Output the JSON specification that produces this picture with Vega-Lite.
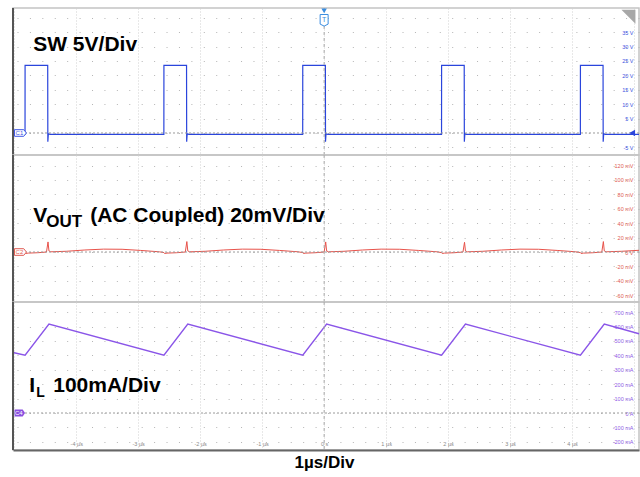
{
  "$schema": "https://vega.github.io/schema/vega-lite/v6.json",
  "background": "white",
  "padding": {"left": 9, "top": 6, "right": 0, "bottom": 0},
  "spacing": 0,
  "bounds": "flush",
  "config": {
    "view": {"stroke": "#c4c4c4", "strokeWidth": 1.5},
    "font": "Liberation Sans",
    "axis": {"ticks": false, "domain": false, "labelFont": "Liberation Sans", "gridWidth": 1, "labelFlush": false, "labelOverlap": false, "tickCount": 30}
  },
  "datasets": {
    "sw": [
      {"t": -5.02, "v": -0.5}, {"t": -4.826, "v": -0.5}, {"t": -4.825, "v": 23.5}, {"t": -4.46, "v": 23.5}, {"t": -4.458, "v": -3.0}, {"t": -4.45, "v": -0.3}, {"t": -4.42, "v": -0.5},
      {"t": -2.586, "v": -0.5}, {"t": -2.585, "v": 23.5}, {"t": -2.22, "v": 23.5}, {"t": -2.218, "v": -3.0}, {"t": -2.21, "v": -0.3}, {"t": -2.18, "v": -0.5},
      {"t": -0.346, "v": -0.5}, {"t": -0.345, "v": 23.5}, {"t": 0.02, "v": 23.5}, {"t": 0.022, "v": -3.0}, {"t": 0.03, "v": -0.3}, {"t": 0.06, "v": -0.5},
      {"t": 1.894, "v": -0.5}, {"t": 1.895, "v": 23.5}, {"t": 2.26, "v": 23.5}, {"t": 2.262, "v": -3.0}, {"t": 2.27, "v": -0.3}, {"t": 2.3, "v": -0.5},
      {"t": 4.134, "v": -0.5}, {"t": 4.135, "v": 23.5}, {"t": 4.5, "v": 23.5}, {"t": 4.502, "v": -3.0}, {"t": 4.51, "v": -0.3}, {"t": 4.54, "v": -0.5},
      {"t": 5.08, "v": -0.5}
    ],
    "vout": [
      {"t": -5.02, "v": 1.1}, {"t": -4.9, "v": 0.3}, {"t": -4.825, "v": -0.8}, {"t": -4.815, "v": -2.0}, {"t": -4.775, "v": -1.5}, {"t": -4.625, "v": -1.0},
      {"t": -4.48, "v": 0.0}, {"t": -4.455, "v": 14}, {"t": -4.44, "v": 1.5}, {"t": -4.41, "v": 0.3}, {"t": -4.16, "v": 1.0}, {"t": -3.86, "v": 2.8}, {"t": -3.56, "v": 4.0}, {"t": -3.26, "v": 3.8}, {"t": -2.96, "v": 2.2}, {"t": -2.66, "v": 0.3},
      {"t": -2.585, "v": -0.8}, {"t": -2.575, "v": -2.0}, {"t": -2.535, "v": -1.5}, {"t": -2.385, "v": -1.0},
      {"t": -2.24, "v": 0.0}, {"t": -2.215, "v": 14.5}, {"t": -2.2, "v": 1.5}, {"t": -2.17, "v": 0.3}, {"t": -1.92, "v": 1.0}, {"t": -1.62, "v": 2.8}, {"t": -1.32, "v": 4.0}, {"t": -1.02, "v": 3.8}, {"t": -0.72, "v": 2.2}, {"t": -0.42, "v": 0.3},
      {"t": -0.345, "v": -0.8}, {"t": -0.335, "v": -2.0}, {"t": -0.295, "v": -1.5}, {"t": -0.145, "v": -1.0},
      {"t": 0.0, "v": 0.0}, {"t": 0.025, "v": 14}, {"t": 0.04, "v": 1.5}, {"t": 0.07, "v": 0.3}, {"t": 0.32, "v": 1.0}, {"t": 0.62, "v": 2.8}, {"t": 0.92, "v": 4.0}, {"t": 1.22, "v": 3.8}, {"t": 1.52, "v": 2.2}, {"t": 1.82, "v": 0.3},
      {"t": 1.895, "v": -0.8}, {"t": 1.905, "v": -2.0}, {"t": 1.945, "v": -1.5}, {"t": 2.095, "v": -1.0},
      {"t": 2.24, "v": 0.0}, {"t": 2.265, "v": 13.5}, {"t": 2.28, "v": 1.5}, {"t": 2.31, "v": 0.3}, {"t": 2.56, "v": 1.0}, {"t": 2.86, "v": 2.8}, {"t": 3.16, "v": 4.0}, {"t": 3.46, "v": 3.8}, {"t": 3.76, "v": 2.2}, {"t": 4.06, "v": 0.3},
      {"t": 4.135, "v": -0.8}, {"t": 4.145, "v": -2.0}, {"t": 4.185, "v": -1.5}, {"t": 4.335, "v": -1.0},
      {"t": 4.48, "v": 0.0}, {"t": 4.505, "v": 14.5}, {"t": 4.52, "v": 1.5}, {"t": 4.55, "v": 0.3}, {"t": 4.8, "v": 1.0}, {"t": 5.08, "v": 2.4}
    ],
    "il": [
      {"t": -5.02, "v": 420}, {"t": -4.825, "v": 402}, {"t": -4.44, "v": 617}, {"t": -2.585, "v": 402}, {"t": -2.2, "v": 617},
      {"t": -0.345, "v": 402}, {"t": 0.04, "v": 617}, {"t": 1.895, "v": 402}, {"t": 2.28, "v": 617}, {"t": 4.135, "v": 402},
      {"t": 4.52, "v": 617}, {"t": 5.08, "v": 550}
    ]
  },
  "vconcat": [
    {
      "width": 626,
      "height": 147,
      "layer": [
        {
          "data": {"name": "sw"},
          "mark": {"type": "line", "color": "#2a45dc", "strokeWidth": 1.2},
          "encoding": {
            "x": {"field": "t", "type": "quantitative", "scale": {"domain": [-5.02, 5.08], "nice": false, "zero": false},
              "axis": {"values": [-5, -4, -3, -2, -1, 0, 1, 2, 3, 4, 5], "tickCount": 30, "labels": false, "grid": true, "gridDash": [1, 2], "gridColor": "#d0d0d0", "title": null}},
            "y": {"field": "v", "type": "quantitative", "scale": {"domain": [-7.64, 43.4], "nice": false, "zero": false},
              "axis": {"orient": "right", "values": [-5, 0, 5, 10, 15, 20, 25, 30, 35, 40], "tickCount": 30, "labelExpr": "datum.value == 0 || datum.value == 40 ? '' : datum.value + ' V'", "labelAlign": "right", "labelPadding": -6, "labelFontSize": 5.5, "labelColor": "#4052e2", "labelOverlap": false, "labelBound": false, "grid": true, "gridDash": [1, 11.42], "gridColor": "#b5b5b5", "title": null}}
          }
        },
        {"data": {"values": [{}]}, "mark": {"type": "rule", "color": "#9a9a9a", "strokeDash": [2, 2], "strokeWidth": 1}, "encoding": {"y": {"datum": 0}}},
        {"data": {"values": [{}]}, "mark": {"type": "rule", "color": "#a8a8a8", "strokeDash": [3, 3], "strokeWidth": 1}, "encoding": {"x": {"datum": 0}}},
        {"data": {"values": [{}]}, "mark": {"type": "rule", "color": "#555555", "strokeWidth": 2}, "encoding": {"x": {"datum": -5.02}}},
        {"data": {"values": [{}]}, "mark": {"type": "text", "text": "SW 5V/Div", "align": "left", "baseline": "alphabetic", "fontSize": 21, "fontWeight": "bold", "color": "#000000", "font": "Liberation Sans"}, "encoding": {"x": {"datum": -4.694}, "y": {"datum": 28.5}}},
        {"data": {"values": [{}]}, "mark": {"type": "point", "filled": true, "fill": "white", "stroke": "#3d55e6", "strokeWidth": 1, "opacity": 1, "shape": "M-1,-0.55L0.55,-0.55L1,0L0.55,0.55L-1,0.55Z", "size": 144}, "encoding": {"x": {"datum": -4.9}, "y": {"datum": 0}}},
        {"data": {"values": [{}]}, "mark": {"type": "text", "text": "C1", "fontSize": 6, "color": "#3d55e6", "align": "center", "baseline": "middle", "dx": -1}, "encoding": {"x": {"datum": -4.9}, "y": {"datum": 0}}},
        {"data": {"values": [{}]}, "mark": {"type": "point", "filled": true, "color": "#2a45dc", "opacity": 1, "shape": "triangle-left", "size": 45}, "encoding": {"x": {"datum": 4.97}, "y": {"datum": 0}}},
        {"data": {"values": [{}]}, "mark": {"type": "point", "filled": true, "color": "#3a8de0", "opacity": 1, "shape": "triangle-down", "size": 30}, "encoding": {"x": {"datum": 0}, "y": {"datum": 42.4}}},
        {"data": {"values": [{}]}, "mark": {"type": "point", "filled": true, "fill": "white", "stroke": "#3a8de0", "strokeWidth": 1, "opacity": 1, "shape": "M-1,-1.4L1,-1.4L1,1L0,1.5L-1,1Z", "size": 64}, "encoding": {"x": {"datum": 0}, "y": {"datum": 39.2}}},
        {"data": {"values": [{}]}, "mark": {"type": "text", "text": "T", "fontSize": 7, "color": "#3a8de0", "align": "center", "baseline": "middle"}, "encoding": {"x": {"datum": 0}, "y": {"datum": 39.4}}},
        {"data": {"values": [{}]}, "mark": {"type": "point", "filled": true, "color": "#a8a8a8", "opacity": 1, "shape": "M-1,-1L1,-1L1,1Z", "size": 196}, "encoding": {"x": {"datum": 4.91}, "y": {"datum": 40.4}}}
      ]
    },
    {
      "width": 626,
      "height": 147,
      "layer": [
        {
          "data": {"name": "vout"},
          "mark": {"type": "line", "color": "#e8524a", "strokeWidth": 1},
          "encoding": {
            "x": {"field": "t", "type": "quantitative", "scale": {"domain": [-5.02, 5.08], "nice": false, "zero": false},
              "axis": {"values": [-5, -4, -3, -2, -1, 0, 1, 2, 3, 4, 5], "tickCount": 30, "labels": false, "grid": true, "gridDash": [1, 2], "gridColor": "#d0d0d0", "title": null}},
            "y": {"field": "v", "type": "quantitative", "scale": {"domain": [-69.4, 134.7], "nice": false, "zero": false},
              "axis": {"orient": "right", "values": [-60, -40, -20, 0, 20, 40, 60, 80, 100, 120], "tickCount": 30, "labelExpr": "datum.value == 0 ? '0 V' : datum.value + ' mV'", "labelAlign": "right", "labelPadding": -6, "labelFontSize": 5.5, "labelColor": "#e05a52", "labelOverlap": false, "labelBound": false, "grid": true, "gridDash": [1, 11.42], "gridColor": "#b5b5b5", "title": null}}
          }
        },
        {"data": {"values": [{}]}, "mark": {"type": "rule", "color": "#9a9a9a", "strokeDash": [2, 2], "strokeWidth": 1}, "encoding": {"y": {"datum": 0}}},
        {"data": {"values": [{}]}, "mark": {"type": "rule", "color": "#a8a8a8", "strokeDash": [3, 3], "strokeWidth": 1}, "encoding": {"x": {"datum": 0}}},
        {"data": {"values": [{}]}, "mark": {"type": "rule", "color": "#555555", "strokeWidth": 2}, "encoding": {"x": {"datum": -5.02}}},
        {"data": {"values": [{}]}, "mark": {"type": "text", "text": "V", "align": "left", "baseline": "alphabetic", "fontSize": 21, "fontWeight": "bold", "color": "#000000"}, "encoding": {"x": {"datum": -4.694}, "y": {"datum": 41.7}}},
        {"data": {"values": [{}]}, "mark": {"type": "text", "text": "OUT", "align": "left", "baseline": "alphabetic", "fontSize": 17, "fontWeight": "bold", "color": "#000000", "dx": 13, "dy": 5}, "encoding": {"x": {"datum": -4.694}, "y": {"datum": 41.7}}},
        {"data": {"values": [{}]}, "mark": {"type": "text", "text": "(AC Coupled) 20mV/Div", "align": "left", "baseline": "alphabetic", "fontSize": 21, "fontWeight": "bold", "color": "#000000", "dx": 57}, "encoding": {"x": {"datum": -4.694}, "y": {"datum": 41.7}}},
        {"data": {"values": [{}]}, "mark": {"type": "point", "filled": true, "fill": "white", "stroke": "#e05a52", "strokeWidth": 1, "opacity": 1, "shape": "M-1,-0.55L0.55,-0.55L1,0L0.55,0.55L-1,0.55Z", "size": 144}, "encoding": {"x": {"datum": -4.9}, "y": {"datum": 0}}},
        {"data": {"values": [{}]}, "mark": {"type": "text", "text": "C2", "fontSize": 6, "color": "#e05a52", "align": "center", "baseline": "middle", "dx": -1}, "encoding": {"x": {"datum": -4.9}, "y": {"datum": 0}}}
      ]
    },
    {
      "width": 626,
      "height": 148,
      "layer": [
        {
          "data": {"name": "il"},
          "mark": {"type": "line", "color": "#8a55e8", "strokeWidth": 1.4},
          "encoding": {
            "x": {"field": "t", "type": "quantitative", "scale": {"domain": [-5.02, 5.08], "nice": false, "zero": false},
              "axis": {"values": [-5, -4, -3, -2, -1, 0, 1, 2, 3, 4, 5], "tickCount": 30, "labelExpr": "abs(datum.value) == 5 ? '' : (datum.value == 0 ? '0 s' : datum.value + ' µs')", "labelFontSize": 5.5, "labelColor": "#8a8a8a", "labelPadding": -9, "labelBaseline": "top", "labelOverlap": false, "grid": true, "gridDash": [1, 2], "gridColor": "#d0d0d0", "domain": true, "domainColor": "#666666", "domainWidth": 2, "title": "1µs/Div", "titleFontSize": 17, "titleFontWeight": "bold", "titleColor": "#000000", "titleFont": "Liberation Sans", "titlePadding": 4, "titleX": 311}},
            "y": {"field": "v", "type": "quantitative", "scale": {"domain": [-256.9, 770.8], "nice": false, "zero": false},
              "axis": {"orient": "right", "values": [-200, -100, 0, 100, 200, 300, 400, 500, 600, 700], "tickCount": 30, "labelExpr": "datum.value == 0 ? '0 A' : datum.value + ' mA'", "labelAlign": "right", "labelPadding": -6, "labelFontSize": 5.5, "labelColor": "#8f5ae6", "labelOverlap": false, "labelBound": false, "grid": true, "gridDash": [1, 11.42], "gridColor": "#b5b5b5", "title": null}}
          }
        },
        {"data": {"values": [{}]}, "mark": {"type": "rule", "color": "#9a9a9a", "strokeDash": [2, 2], "strokeWidth": 1}, "encoding": {"y": {"datum": 0}}},
        {"data": {"values": [{}]}, "mark": {"type": "rule", "color": "#a8a8a8", "strokeDash": [3, 3], "strokeWidth": 1}, "encoding": {"x": {"datum": 0}}},
        {"data": {"values": [{}]}, "mark": {"type": "rule", "color": "#555555", "strokeWidth": 2}, "encoding": {"x": {"datum": -5.02}}},
        {"data": {"values": [{}]}, "mark": {"type": "text", "text": "I", "align": "left", "baseline": "alphabetic", "fontSize": 21, "fontWeight": "bold", "color": "#000000"}, "encoding": {"x": {"datum": -4.758}, "y": {"datum": 145.8}}},
        {"data": {"values": [{}]}, "mark": {"type": "text", "text": "L", "align": "left", "baseline": "alphabetic", "fontSize": 14, "fontWeight": "bold", "color": "#000000", "dx": 7, "dy": 5}, "encoding": {"x": {"datum": -4.758}, "y": {"datum": 145.8}}},
        {"data": {"values": [{}]}, "mark": {"type": "text", "text": "100mA/Div", "align": "left", "baseline": "alphabetic", "fontSize": 21, "fontWeight": "bold", "color": "#000000", "dx": 24}, "encoding": {"x": {"datum": -4.758}, "y": {"datum": 145.8}}},
        {"data": {"values": [{}]}, "mark": {"type": "point", "filled": true, "color": "#8a4fe0", "opacity": 1, "shape": "M-1,-0.65L0.55,-0.65L1,0L0.55,0.65L-1,0.65Z", "size": 110}, "encoding": {"x": {"datum": -4.91}, "y": {"datum": 0}}},
        {"data": {"values": [{}]}, "mark": {"type": "text", "text": "C4", "fontSize": 6, "color": "#ffffff", "align": "center", "baseline": "middle", "dx": -1}, "encoding": {"x": {"datum": -4.91}, "y": {"datum": 0}}}
      ]
    }
  ]
}
